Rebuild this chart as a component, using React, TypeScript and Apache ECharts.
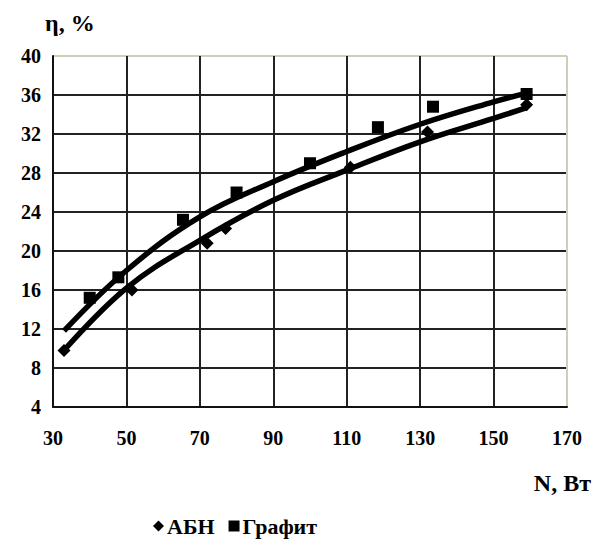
import React, { useEffect, useRef } from "react";
import * as echarts from "echarts";

// Measured points (x = N, W ; y = η, %)
const abnX = [33, 51.5, 72, 77, 111, 132, 159];
const abnY = [9.8, 16.0, 20.8, 22.3, 28.6, 32.2, 35.0];
const grafitX = [40, 47.8, 65.4, 80, 100, 118.5, 133.5, 159];
const grafitY = [15.2, 17.3, 23.2, 26.0, 29.0, 32.7, 34.8, 36.1];

// Trend lines
const abnTrendX = [32.5, 50, 70, 90, 110, 130, 150, 159];
const abnTrendY = [9.6, 16.2, 21.1, 25.2, 28.3, 31.2, 33.6, 34.7];
const grafitTrendX = [33, 50, 70, 90, 110, 130, 150, 159];
const grafitTrendY = [11.8, 18.0, 23.5, 27.1, 30.2, 33.0, 35.3, 36.2];

const seriesNames = ["АБН", "Графит"];
const yTitle = "η, %";
const xTitle = "N, Вт";

const zip = (xs: number[], ys: number[]) => xs.map((x, i) => [x, ys[i]]);

const FONT = "'Liberation Serif', 'DejaVu Serif', serif";

export default function App() {
  const ref = useRef<HTMLDivElement>(null);
  useEffect(() => {
    if (!ref.current) return;
    const chart = echarts.init(ref.current, undefined, { renderer: "svg" });
    const dark = "#222";
    const pale = "#cfcfb8";
    chart.setOption({
      animation: false,
      backgroundColor: "#fff",
      grid: { left: 53, right: 34, top: 56, bottom: 133 },
      xAxis: {
        type: "value",
        min: 30,
        max: 170,
        interval: 20,
        axisLine: { show: true, lineStyle: { color: "#111", width: 2 } },
        axisTick: { show: false },
        axisLabel: {
          margin: 21,
          fontFamily: FONT,
          fontWeight: "bold",
          fontSize: 20,
          color: "#000",
        },
        splitLine: {
          show: true,
          lineStyle: {
            width: 2,
            color: [dark, dark, dark, dark, dark, dark, dark, pale],
          },
        },
      },
      yAxis: {
        type: "value",
        min: 4,
        max: 40,
        interval: 4,
        axisLine: { show: true, lineStyle: { color: "#111", width: 2 } },
        axisTick: { show: false },
        axisLabel: {
          margin: 12,
          fontFamily: FONT,
          fontWeight: "bold",
          fontSize: 20,
          color: "#000",
        },
        splitLine: {
          show: true,
          lineStyle: {
            width: 2,
            color: [dark, dark, dark, dark, dark, dark, dark, dark, dark, pale],
          },
        },
      },
      legend: {
        data: [
          { name: seriesNames[0], icon: "diamond" },
          { name: seriesNames[1], icon: "rect" },
        ],
        left: 148,
        top: 510,
        itemWidth: 11,
        itemHeight: 11,
        itemGap: 14,
        textStyle: {
          fontFamily: FONT,
          fontWeight: "bold",
          fontSize: 22,
          color: "#000",
          padding: [0, 0, 0, -2],
        },
      },
      graphic: [
        {
          type: "text",
          left: 45,
          top: 11,
          style: {
            text: yTitle,
            font: `bold 24px ${FONT}`,
            fill: "#000",
          },
        },
        {
          type: "text",
          right: 10,
          top: 471,
          style: {
            text: xTitle,
            font: `bold 24px ${FONT}`,
            fill: "#000",
          },
        },
      ],
      series: [
        {
          name: "trend-abn",
          type: "line",
          data: zip(abnTrendX, abnTrendY),
          smooth: 0.4,
          showSymbol: false,
          symbol: "none",
          lineStyle: { color: "#000", width: 5.5 },
          z: 2,
          silent: true,
        },
        {
          name: "trend-grafit",
          type: "line",
          data: zip(grafitTrendX, grafitTrendY),
          smooth: 0.4,
          showSymbol: false,
          symbol: "none",
          lineStyle: { color: "#000", width: 5.5 },
          z: 2,
          silent: true,
        },
        {
          name: seriesNames[0],
          type: "scatter",
          data: zip(abnX, abnY),
          symbol: "diamond",
          symbolSize: 13,
          itemStyle: { color: "#000", opacity: 1 },
          z: 3,
        },
        {
          name: seriesNames[1],
          type: "scatter",
          data: zip(grafitX, grafitY),
          symbol: "rect",
          symbolSize: 12,
          itemStyle: { color: "#000", opacity: 1 },
          z: 3,
        },
      ],
    });
    return () => chart.dispose();
  }, []);
  return (
    <div
      ref={ref}
      style={{ position: "fixed", left: 0, top: 0, width: 601, height: 540, background: "#fff" }}
    />
  );
}
